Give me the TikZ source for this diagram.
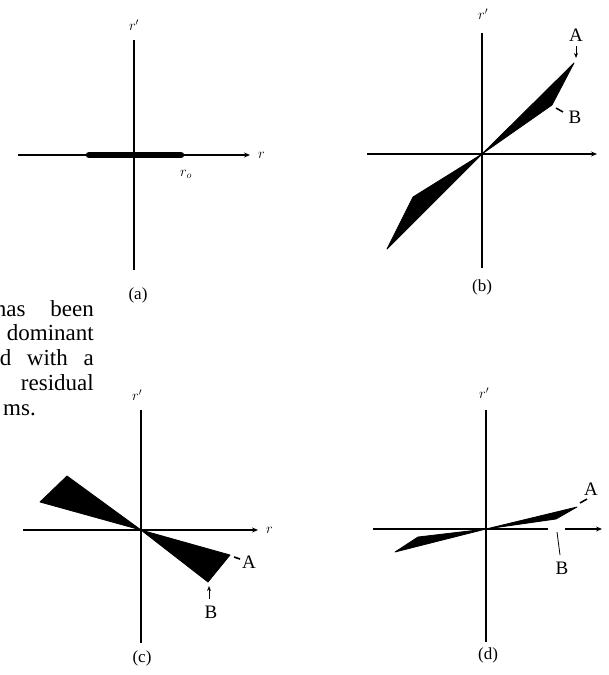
\documentclass[tikz,border=0pt]{standalone}
\usepackage{fontspec}
\setmainfont{Liberation Serif}
\usetikzlibrary{arrows.meta}
\begin{document}
\begin{tikzpicture}[x=1pt,y=-1pt,
  axis/.style={line width=2.2pt},
  axisarrow/.style={line width=2.2pt,-{Stealth[length=6pt,width=5pt]}},
  lobe/.style={fill=black,draw=black,line width=0.8pt,line join=round},
  caption/.style={font=\fontsize{17}{17}\selectfont,inner sep=0pt},
  letter/.style={font=\fontsize{19}{19}\selectfont,inner sep=0pt},
  axlabel/.style={font=\fontsize{14}{14}\selectfont,inner sep=0pt},
  body/.style={font=\fontsize{23}{23}\selectfont,inner sep=0pt},
  pointer/.style={line width=0.9pt,-{Stealth[length=5pt,width=4pt]}},
  leader/.style={line width=1.6pt}
]
\useasboundingbox (0,0) rectangle (609,675);

% ---------- (a) ----------
\coordinate (aT) at (134,40);
\coordinate (aB) at (134,270);
\coordinate (aL) at (18,155);
\coordinate (aR) at (250,155);
\coordinate (aS) at (89,155);
\coordinate (aE) at (181,155);
\draw[axis] (aT) -- (aB);
\draw[axisarrow] (aL) -- (aR);
\draw[line width=6.5pt,line cap=round] (aS) -- (aE);
\node[axlabel] (arp) at (134,25) {$r'$};
\node[axlabel,anchor=west] (ar) at (258,155) {$r$};
\node[axlabel] (aro) at (186,174) {$r_o$};
\node[caption] (acap) at (138,295) {(a)};

% ---------- (b) ----------
\coordinate (bO) at (482,154);
\coordinate (bT) at (482,33);
\coordinate (bB) at (482,268);
\coordinate (bL) at (367,154);
\coordinate (bR) at (597,154);
\coordinate (bA) at (574,63);
\coordinate (bBc) at (552,105);
\coordinate (bC) at (413,197);
\coordinate (bD) at (387,249);
\draw[axis] (bT) -- (bB);
\draw[axisarrow] (bL) -- (bR);
\fill[lobe] (bO) -- (bA) -- (bBc) -- cycle;
\fill[lobe] (bO) -- (bC) -- (bD) -- cycle;
\node[axlabel] (brp) at (483,14) {$r'$};
\node[letter] (bAl) at (576,35) {A};
\coordinate (bAs) at (576,46);
\coordinate (bAp) at (576,58);
\draw[pointer] (bAs) -- (bAp);
\node[letter] (bBl) at (575,117) {B};
\coordinate (bBd1) at (556,108);
\coordinate (bBd2) at (563,112);
\draw[leader] (bBd1) -- (bBd2);
\node[caption] (bcap) at (482,287) {(b)};

% ---------- (c) ----------
\coordinate (cO) at (141,530);
\coordinate (cT) at (141,410);
\coordinate (cB) at (141,643);
\coordinate (cL) at (23,530);
\coordinate (cR) at (258,530);
\coordinate (cP) at (67,476);
\coordinate (cQ) at (40,502);
\coordinate (cA) at (230,555);
\coordinate (cBc) at (208,582);
\draw[axis] (cT) -- (cB);
\draw[axisarrow] (cL) -- (cR);
\fill[lobe] (cO) -- (cP) -- (cQ) -- cycle;
\fill[lobe] (cO) -- (cA) -- (cBc) -- cycle;
\node[axlabel] (crp) at (137,395) {$r'$};
\node[axlabel,anchor=west] (cr) at (266,530) {$r$};
\node[letter] (cAl) at (249,562) {A};
\coordinate (cAd1) at (234,557);
\coordinate (cAd2) at (240,559);
\draw[leader] (cAd1) -- (cAd2);
\node[letter] (cBl) at (211,612) {B};
\coordinate (cBp1) at (209,599);
\coordinate (cBp2) at (209,586);
\draw[pointer] (cBp1) -- (cBp2);
\node[caption] (ccap) at (142,658) {(c)};

% ---------- (d) ----------
\coordinate (dO) at (486,529);
\coordinate (dT) at (486,410);
\coordinate (dB) at (486,642);
\coordinate (dL) at (373,529);
\coordinate (dG1) at (548,529);
\coordinate (dG2) at (565,529);
\coordinate (dR) at (602,529);
\coordinate (dA) at (577,507);
\coordinate (dBc) at (556,519);
\coordinate (dC) at (418,537);
\coordinate (dD) at (395,552);
\draw[axis] (dT) -- (dB);
\draw[axis] (dL) -- (dG1);
\draw[axisarrow] (dG2) -- (dR);
\fill[lobe] (dO) -- (dA) -- (dBc) -- cycle;
\fill[lobe] (dO) -- (dC) -- (dD) -- cycle;
\node[axlabel] (drp) at (484,393) {$r'$};
\node[letter] (dAl) at (591,489) {A};
\coordinate (dAd1) at (580,503);
\coordinate (dAd2) at (587,499);
\draw[leader] (dAd1) -- (dAd2);
\node[letter] (dBl) at (562,568) {B};
\coordinate (dBt1) at (557,532);
\coordinate (dBt2) at (560,555);
\draw[line width=0.8pt] (dBt1) -- (dBt2);
\node[caption] (dcap) at (488,655) {(d)};

% ---------- cut-off body text ----------
\node[body,anchor=base east] (t1) at (94,316) {\hbox to 99pt{has\hfill been}};
\node[body,anchor=base east] (t2) at (94,340) {dominant};
\node[body,anchor=base east] (t3) at (94,365) {\hbox to 94pt{d\hfill with\hfill a}};
\node[body,anchor=base east] (t4) at (94,390) {residual};
\node[body,anchor=base west] (t5) at (3,415) {ms.};
\end{tikzpicture}
\end{document}
